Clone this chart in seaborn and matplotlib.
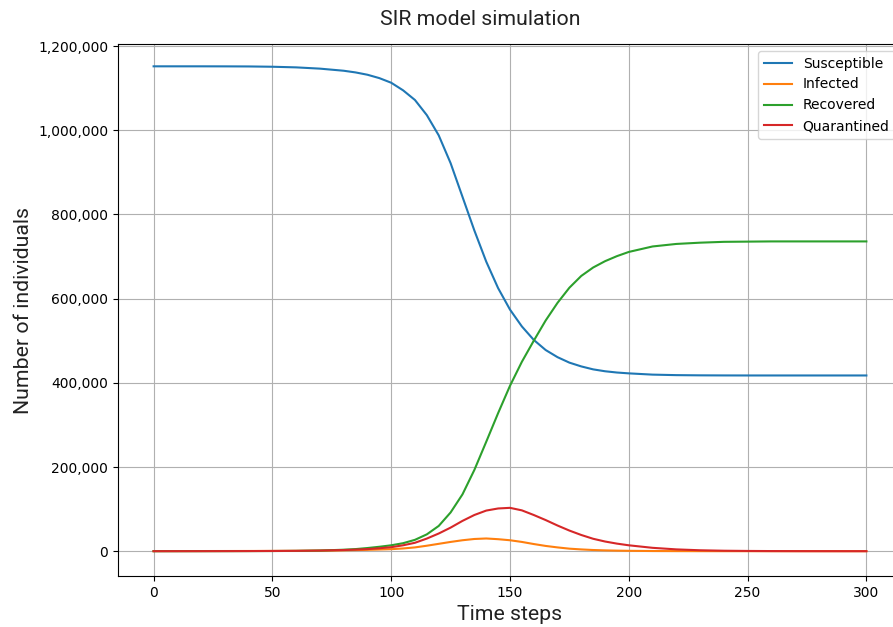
import matplotlib
matplotlib.use("Agg")
import matplotlib.pyplot as plt
import matplotlib.ticker as mticker
import seaborn as sns

# values at irregular time steps
time_steps = [0, 10, 20, 30, 40, 50, 60, 70, 80, 85, 90, 95, 100, 105, 110, 115,
              120, 125, 130, 135, 140, 145, 150, 155, 160, 165, 170, 175, 180, 185,
              190, 195, 200, 210, 220, 230, 240, 250, 260, 270, 280, 290, 300]

susceptible = [1152000, 1152000, 1152000, 1151900, 1151700, 1151000, 1149500, 1146500,
               1141500, 1137500, 1132000, 1124000, 1113000, 1095000, 1072000, 1036000,
               988000, 922000, 842000, 762000, 688000, 625000, 574000, 534000, 502000,
               478000, 461000, 448000, 439000, 432000, 427500, 424500, 422500, 419500,
               418300, 417800, 417600, 417500, 417500, 417500, 417500, 417500, 417500]

infected = [300, 300, 350, 400, 500, 650, 850, 1200, 2000, 2600, 3200, 4000, 4800,
            6500, 9000, 13000, 17500, 22000, 26000, 29000, 30200, 28500, 26000, 22000,
            17000, 12500, 9000, 6000, 4200, 2800, 1900, 1300, 900, 400, 200, 100, 50,
            30, 20, 10, 10, 5, 5]

recovered = [0, 50, 100, 150, 250, 400, 700, 1500, 3500, 5000, 7500, 10500, 14000,
             19000, 27000, 40000, 60000, 92000, 135000, 193000, 260000, 328000, 393000,
             450000, 500000, 548000, 590000, 626000, 654000, 674000, 689000, 701000,
             711000, 724000, 730000, 733000, 735000, 735500, 736000, 736000, 736000,
             736000, 736000]

quarantined = [0, 50, 100, 200, 300, 500, 800, 1500, 2800, 3800, 5000, 7000, 9500,
               14000, 20000, 30000, 42000, 56000, 72000, 86000, 96500, 101500, 103000,
               97000, 86000, 74000, 61000, 49000, 38500, 29500, 23000, 18000, 14000,
               8000, 4300, 2200, 1100, 600, 300, 150, 80, 40, 20]

fig = plt.figure(figsize=(8.93, 6.27), dpi=100)
ax = fig.add_axes([0.1321, 0.0813, 0.878, 0.8485])

sns.lineplot(x=time_steps, y=susceptible, label="Susceptible", color="#1f77b4", ax=ax)
sns.lineplot(x=time_steps, y=infected, label="Infected", color="#ff7f0e", ax=ax)
sns.lineplot(x=time_steps, y=recovered, label="Recovered", color="#2ca02c", ax=ax)
sns.lineplot(x=time_steps, y=quarantined, label="Quarantined", color="#d62728", ax=ax)

ax.grid(True)
ax.set_ylim(-59000, 1205000)
ax.yaxis.set_major_formatter(mticker.FuncFormatter(lambda v, p: f"{v:,.0f}"))
ax.set_xticks([0, 50, 100, 150, 200, 250, 300])

ax.set_title("SIR model simulation", fontsize=15.3, family="Roboto", color="#222222",
             pad=14, x=0.462)
ax.set_xlabel("Time steps", fontsize=15.3, family="Roboto", color="#222222")
ax.set_ylabel("Number of individuals", fontsize=15.3, family="Roboto", color="#222222")
ax.legend(loc="upper right", fontsize=10)

plt.savefig("out.png", dpi=100)
plt.close()
